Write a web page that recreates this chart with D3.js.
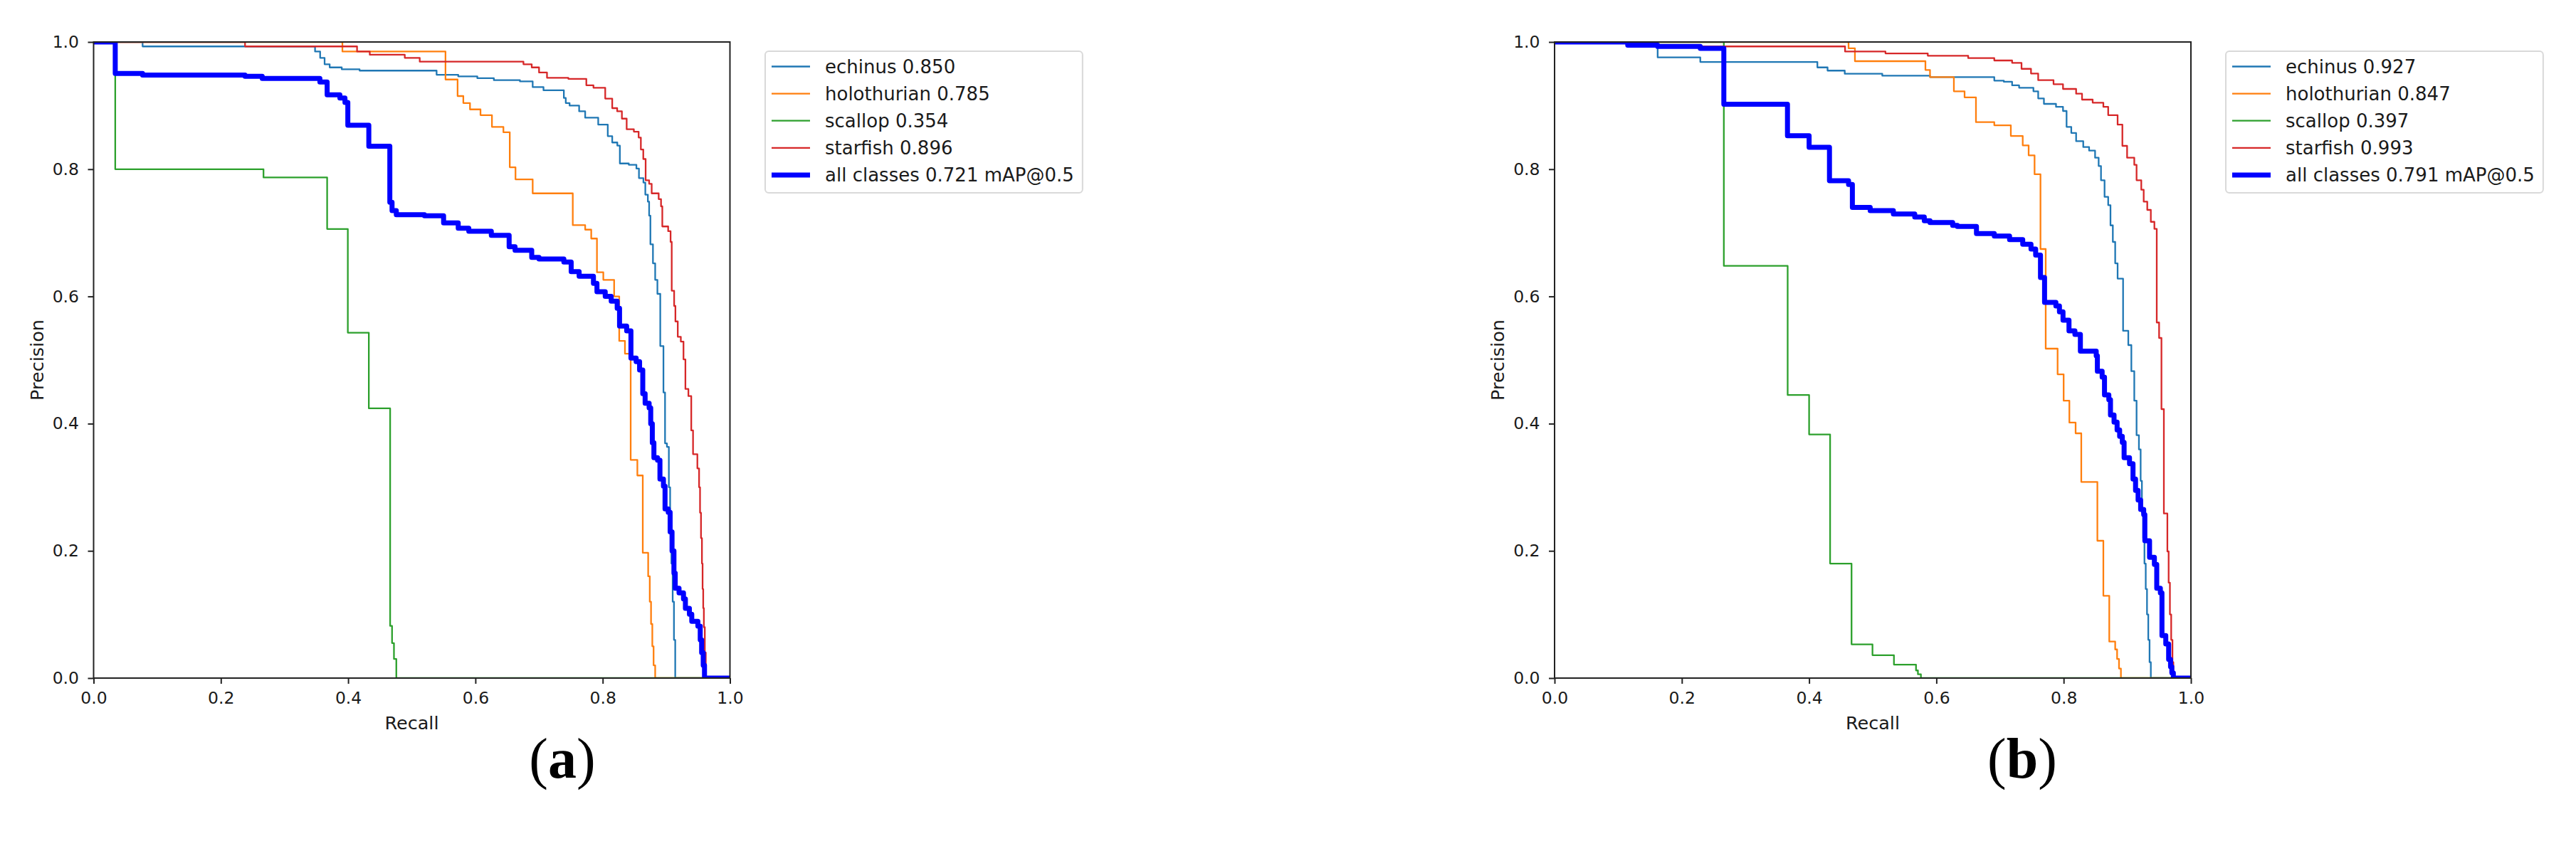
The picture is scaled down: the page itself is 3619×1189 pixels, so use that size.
<!DOCTYPE html>
<html>
<head>
<meta charset="utf-8">
<script src="https://cdn.jsdelivr.net/npm/d3@7"></script>
<style>
  html, body { margin: 0; padding: 0; background: #ffffff; }
  svg { display: block; }
</style>
</head>
<body>
<svg id="chart" width="3619" height="1189"></svg>
<script>
// ---------------- DATA ----------------
// Each curve: [recall where a precision level starts, precision level] (step-after)
const classNames = ["echinus", "holothurian", "scallop", "starfish"];
const apA = [0.850, 0.785, 0.354, 0.896];
const mapA = 0.721;
const apB = [0.927, 0.847, 0.397, 0.993];
const mapB = 0.791;
const axisTicks = [0.0, 0.2, 0.4, 0.6, 0.8, 1.0];
const captions = ["a", "b"];

// ---- panel (a)
const echinusA = [[0,1.0],[0.077,0.993],[0.348,0.985],[0.356,0.975],[0.363,0.965],[0.371,0.96],[0.39,0.957],[0.418,0.955],[0.539,0.9485],[0.573,0.946],[0.603,0.943],[0.629,0.940],[0.670,0.938],[0.690,0.929],[0.707,0.924],[0.739,0.912],[0.742,0.904],[0.748,0.900],[0.763,0.891],[0.7725,0.881],[0.793,0.870],[0.808,0.852],[0.815,0.842],[0.823,0.837],[0.827,0.809],[0.841,0.807],[0.853,0.801],[0.857,0.786],[0.864,0.779],[0.867,0.760],[0.871,0.749],[0.873,0.727],[0.875,0.682],[0.879,0.652],[0.8825,0.626],[0.886,0.604],[0.8905,0.522],[0.8955,0.449],[0.898,0.369],[0.901,0.3635],[0.904,0.30],[0.906,0.24],[0.908,0.18],[0.910,0.12],[0.912,0.06],[0.914,0.0],[1.0,0.0]];
const holothurianA = [[0,1.0],[0.391,0.985],[0.553,0.941],[0.572,0.915],[0.581,0.904],[0.5915,0.894],[0.608,0.885],[0.626,0.8665],[0.644,0.858],[0.654,0.803],[0.663,0.784],[0.690,0.762],[0.753,0.712],[0.7725,0.705],[0.782,0.691],[0.791,0.638],[0.801,0.626],[0.818,0.600],[0.826,0.530],[0.835,0.510],[0.844,0.343],[0.8545,0.3185],[0.863,0.197],[0.8715,0.16],[0.874,0.12],[0.876,0.085],[0.878,0.05],[0.880,0.02],[0.8825,0.0],[1.0,0.0]];
const scallopA = [[0,1.0],[0.034,0.800],[0.267,0.787],[0.367,0.706],[0.3995,0.543],[0.4325,0.424],[0.466,0.082],[0.469,0.055],[0.472,0.03],[0.4757,0.0],[1.0,0.0]];
const starfishA = [[0,1.0],[0.238,0.993],[0.414,0.985],[0.434,0.98],[0.489,0.975],[0.5125,0.969],[0.6755,0.965],[0.6885,0.960],[0.700,0.952],[0.7125,0.9437],[0.746,0.942],[0.7743,0.932],[0.7855,0.928],[0.804,0.911],[0.815,0.896],[0.8228,0.891],[0.8302,0.8795],[0.8377,0.8628],[0.849,0.859],[0.8565,0.8498],[0.860,0.831],[0.8638,0.816],[0.8675,0.7826],[0.873,0.777],[0.877,0.762],[0.888,0.753],[0.8917,0.7416],[0.8937,0.710],[0.9029,0.7025],[0.9067,0.6857],[0.9085,0.609],[0.9123,0.585],[0.9143,0.5607],[0.918,0.5366],[0.9228,0.529],[0.927,0.501],[0.930,0.4545],[0.9347,0.4433],[0.9392,0.3893],[0.942,0.352],[0.9488,0.3296],[0.9515,0.30],[0.953,0.26],[0.9545,0.22],[0.956,0.18],[0.957,0.14],[0.958,0.11],[0.959,0.08],[0.9605,0.04],[0.962,0.0],[1.0,0.0]];
const allClassesA = [[0,1.0],[0.034,0.9505],[0.077,0.948],[0.238,0.946],[0.265,0.9427],[0.3556,0.937],[0.367,0.917],[0.387,0.912],[0.395,0.905],[0.3995,0.869],[0.4325,0.836],[0.4655,0.748],[0.469,0.735],[0.4757,0.7286],[0.52,0.7267],[0.550,0.7155],[0.573,0.7073],[0.5896,0.7025],[0.625,0.696],[0.653,0.678],[0.6623,0.6726],[0.6885,0.6614],[0.700,0.6588],[0.739,0.654],[0.7505,0.639],[0.763,0.6316],[0.7855,0.6205],[0.791,0.6074],[0.804,0.600],[0.8134,0.5925],[0.8228,0.5813],[0.8265,0.5533],[0.8377,0.546],[0.8444,0.503],[0.8526,0.4974],[0.858,0.4843],[0.863,0.4471],[0.8667,0.4321],[0.873,0.4247],[0.8755,0.40],[0.878,0.37],[0.8805,0.3464],[0.8862,0.3426],[0.890,0.3128],[0.8955,0.3017],[0.898,0.266],[0.903,0.2606],[0.906,0.23],[0.909,0.20],[0.912,0.165],[0.914,0.1413],[0.920,0.1339],[0.927,0.1245],[0.930,0.1096],[0.9363,0.1003],[0.940,0.0891],[0.9496,0.0817],[0.9533,0.06],[0.9555,0.04],[0.958,0.02],[0.960,0.0],[1.0,0.0]];

// ---- panel (b)
const echinusB = [[0,1.0],[0.162,0.9757],[0.229,0.9686],[0.413,0.96],[0.429,0.955],[0.456,0.95],[0.515,0.947],[0.59,0.9448],[0.691,0.9392],[0.706,0.9374],[0.719,0.9318],[0.730,0.928],[0.7525,0.9225],[0.760,0.9113],[0.769,0.9027],[0.788,0.898],[0.799,0.8915],[0.8046,0.8665],[0.812,0.857],[0.8196,0.844],[0.8308,0.8348],[0.840,0.8292],[0.8494,0.818],[0.855,0.805],[0.8587,0.7826],[0.8643,0.7565],[0.870,0.7435],[0.8736,0.7117],[0.8773,0.6857],[0.881,0.652],[0.8848,0.628],[0.8934,0.546],[0.9016,0.5235],[0.9064,0.4825],[0.911,0.436],[0.9146,0.3818],[0.9183,0.3594],[0.921,0.31],[0.923,0.26],[0.925,0.22],[0.927,0.18],[0.929,0.14],[0.931,0.10],[0.933,0.06],[0.935,0.025],[0.937,0.0],[1.0,0.0]];
const holothurianB = [[0,1.0],[0.462,0.99],[0.472,0.9698],[0.5828,0.956],[0.590,0.9448],[0.6275,0.9225],[0.6443,0.913],[0.6622,0.874],[0.691,0.869],[0.717,0.8523],[0.7357,0.8375],[0.745,0.8218],[0.7543,0.792],[0.7636,0.6745],[0.7718,0.5179],[0.7905,0.4776],[0.800,0.436],[0.809,0.4016],[0.8188,0.3848],[0.8277,0.3084],[0.853,0.2159],[0.8624,0.1294],[0.8717,0.0574],[0.881,0.045],[0.884,0.03],[0.887,0.015],[0.890,0.0],[1.0,0.0]];
const scallopB = [[0,1.0],[0.266,0.648],[0.3663,0.445],[0.40,0.383],[0.433,0.18],[0.4667,0.053],[0.4996,0.036],[0.5333,0.0212],[0.568,0.012],[0.571,0.006],[0.5757,0.0],[1.0,0.0]];
const starfishB = [[0,1.0],[0.115,0.993],[0.4565,0.985],[0.52,0.982],[0.5865,0.9784],[0.650,0.9746],[0.691,0.9709],[0.719,0.9672],[0.7338,0.9578],[0.7487,0.9504],[0.760,0.940],[0.7841,0.9336],[0.799,0.9262],[0.8196,0.9187],[0.8289,0.9094],[0.8456,0.9046],[0.8624,0.898],[0.870,0.885],[0.8848,0.870],[0.8923,0.8367],[0.8997,0.818],[0.911,0.8068],[0.9146,0.7826],[0.922,0.7677],[0.9258,0.749],[0.9314,0.736],[0.937,0.7173],[0.9426,0.7062],[0.9463,0.559],[0.950,0.5347],[0.9537,0.4228],[0.9575,0.2587],[0.963,0.1991],[0.965,0.15],[0.967,0.10],[0.969,0.06],[0.971,0.025],[0.9724,0.0],[1.0,0.0]];
const allClassesB = [[0,1.0],[0.115,0.995],[0.162,0.993],[0.229,0.99],[0.266,0.902],[0.366,0.8525],[0.40,0.8345],[0.432,0.782],[0.462,0.776],[0.468,0.740],[0.496,0.735],[0.5324,0.7297],[0.566,0.7248],[0.581,0.719],[0.590,0.7162],[0.6256,0.7117],[0.633,0.710],[0.663,0.6988],[0.691,0.695],[0.715,0.6894],[0.7357,0.682],[0.7487,0.6745],[0.756,0.665],[0.7636,0.6298],[0.770,0.5906],[0.7878,0.585],[0.7934,0.5757],[0.799,0.5626],[0.8084,0.546],[0.8177,0.5403],[0.8263,0.514],[0.8512,0.5067],[0.853,0.4825],[0.8605,0.4732],[0.8642,0.4452],[0.871,0.4377],[0.8736,0.4135],[0.8792,0.4023],[0.884,0.39],[0.888,0.38],[0.8922,0.3706],[0.895,0.3464],[0.9035,0.337],[0.909,0.3129],[0.913,0.295],[0.917,0.28],[0.921,0.265],[0.9258,0.257],[0.9276,0.2159],[0.935,0.1898],[0.9426,0.1786],[0.9463,0.1413],[0.952,0.1339],[0.9545,0.0668],[0.9605,0.0537],[0.965,0.0294],[0.968,0.018],[0.970,0.008],[0.9724,0.0],[1.0,0.0]];

// ---------------- STYLE / LAYOUT ----------------
const classColors = ["#1f77b4", "#ff7f0e", "#2ca02c", "#d62728"];
const allColor = "#0000ff";
const FONT = "'DejaVu Sans', sans-serif";

const panels = [
  { left: 131.5, top: 59, size: 894, legendX: 1075, caption: captions[0], capX: 790,
    curves: [echinusA, holothurianA, scallopA, starfishA], all: allClassesA, ap: apA, map: mapA },
  { left: 2184, top: 59, size: 894, legendX: 3127, caption: captions[1], capX: 2841,
    curves: [echinusB, holothurianB, scallopB, starfishB], all: allClassesB, ap: apB, map: mapB }
];

const svg = d3.select("#chart");
svg.append("rect").attr("width", 3619).attr("height", 1189).attr("fill", "#ffffff");
const fmt = d3.format(".1f");

panels.forEach((p, pi) => {
  const x = d3.scaleLinear().domain([0, 1]).range([p.left, p.left + p.size]);
  const y = d3.scaleLinear().domain([0, 1]).range([p.top + p.size, p.top]);

  const clipId = "clip" + pi;
  svg.append("clipPath").attr("id", clipId)
    .append("rect").attr("x", p.left).attr("y", p.top).attr("width", p.size).attr("height", p.size);

  const line = d3.line().x(d => x(d[0])).y(d => y(d[1])).curve(d3.curveStepAfter);
  const g = svg.append("g").attr("clip-path", `url(#${clipId})`);

  p.curves.forEach((c, i) => {
    g.append("path").datum(c).attr("d", line)
      .attr("fill", "none").attr("stroke", classColors[i]).attr("stroke-width", 2.3)
      .attr("stroke-linejoin", "round");
  });
  g.append("path").datum(p.all).attr("d", line)
    .attr("fill", "none").attr("stroke", allColor).attr("stroke-width", 7)
    .attr("stroke-linejoin", "round");

  // axes
  const xAxis = d3.axisBottom(x).tickValues(axisTicks).tickFormat(fmt).tickSize(8).tickSizeOuter(0).tickPadding(11);
  const yAxis = d3.axisLeft(y).tickValues(axisTicks).tickFormat(fmt).tickSize(8).tickSizeOuter(0).tickPadding(12.5);
  const gx = svg.append("g").attr("transform", `translate(0,${p.top + p.size})`).call(xAxis);
  const gy = svg.append("g").attr("transform", `translate(${p.left},0)`).call(yAxis);
  [gx, gy].forEach(ax => {
    ax.select(".domain").remove();
    ax.selectAll(".tick line").attr("stroke", "#222").attr("stroke-width", 2);
    ax.selectAll(".tick text").attr("fill", "#1a1a1a").style("font-family", FONT).style("font-size", "23.5px");
  });

  // frame (spines)
  svg.append("rect").attr("x", p.left).attr("y", p.top).attr("width", p.size).attr("height", p.size)
    .attr("fill", "none").attr("stroke", "#222").attr("stroke-width", 2);

  // axis labels
  svg.append("text").attr("x", p.left + p.size / 2).attr("y", 1025)
    .attr("text-anchor", "middle").attr("fill", "#1a1a1a")
    .style("font-family", FONT).style("font-size", "25.5px").text("Recall");
  svg.append("text").attr("transform", `translate(${p.left - 71},${p.top + p.size / 2}) rotate(-90)`)
    .attr("text-anchor", "middle").attr("fill", "#1a1a1a")
    .style("font-family", FONT).style("font-size", "25.5px").text("Precision");

  // legend
  const labels = classNames.map((n, i) => `${n} ${p.ap[i].toFixed(3)}`)
    .concat([`all classes ${p.map.toFixed(3)} mAP@0.5`]);
  const lg = svg.append("g");
  const box = lg.append("rect").attr("x", p.legendX).attr("y", 72).attr("height", 199)
    .attr("rx", 5).attr("fill", "#ffffff").attr("fill-opacity", 0.8)
    .attr("stroke", "#d9d9d9").attr("stroke-width", 2);
  let maxW = 0;
  labels.forEach((lab, i) => {
    const cy = 93.5 + i * 38.1;
    lg.append("line").attr("x1", p.legendX + 9).attr("x2", p.legendX + 63)
      .attr("y1", cy).attr("y2", cy)
      .attr("stroke", i < 4 ? classColors[i] : allColor)
      .attr("stroke-width", i < 4 ? 2.3 : 7);
    const t = lg.append("text").attr("x", p.legendX + 84).attr("y", cy + 9.4)
      .attr("fill", "#1a1a1a").style("font-family", FONT).style("font-size", "26px").text(lab);
    maxW = Math.max(maxW, t.node().getComputedTextLength());
  });
  box.attr("width", 84 + maxW + 12);

  // caption
  svg.append("text").attr("x", p.capX).attr("y", 1093).attr("text-anchor", "middle")
    .attr("fill", "#000").style("font-family", "'Liberation Serif', 'Times New Roman', serif")
    .style("font-size", "80px")
    .html(`(<tspan font-weight="bold">${p.caption}</tspan>)`);
});
</script>
</body>
</html>
